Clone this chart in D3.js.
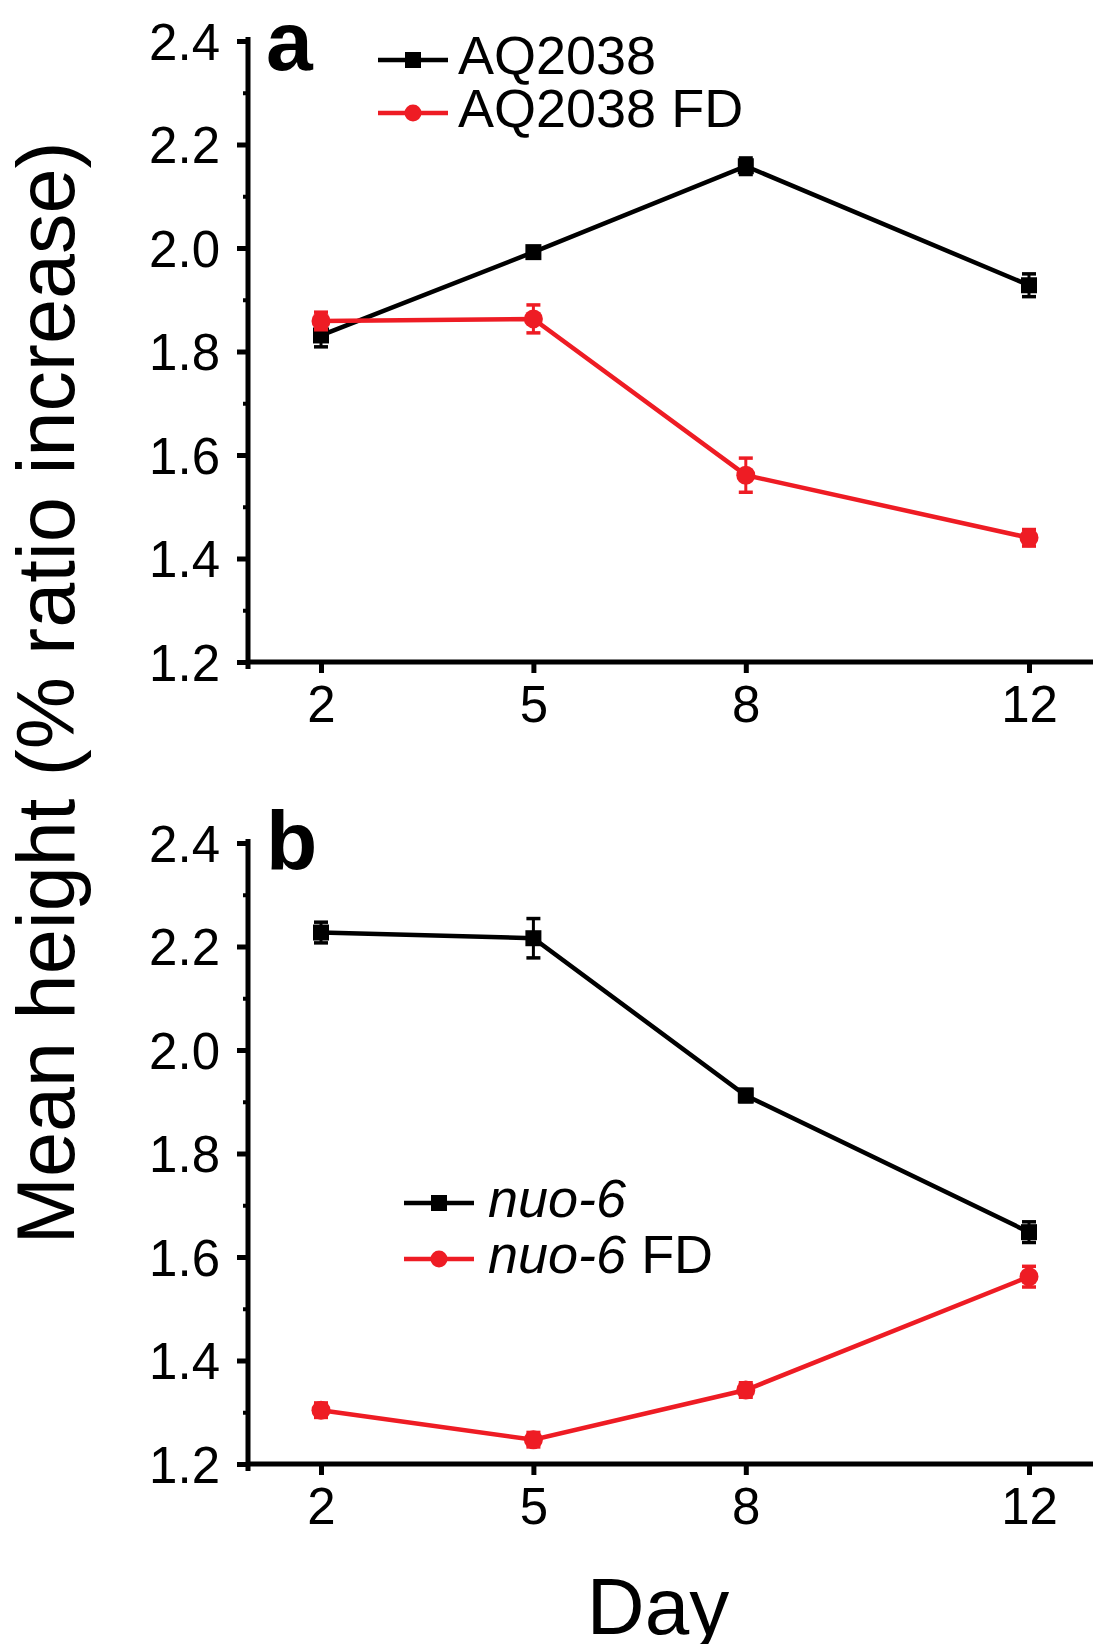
<!DOCTYPE html>
<html>
<head>
<meta charset="utf-8">
<script src="https://cdn.jsdelivr.net/npm/d3@7.9.0/dist/d3.min.js"></script>
<style>
  body { margin: 0; background: #fff; }
  svg { display: block; }
  text { font-family: "Liberation Sans", Arial, sans-serif; fill: #000; }
</style>
</head>
<body>
<div id="chart"></div>
<script>
// days on the x axis
const days = [2, 5, 8, 12];

// panel a
const aq2038 = [1.831, 1.992, 2.158, 1.928];
const aq2038Err = [0.022, 0.010, 0.016, 0.022];
const aq2038FD = [1.859, 1.863, 1.561, 1.440];
const aq2038FDErr = [0.017, 0.027, 0.033, 0.016];

// panel b
const nuo6 = [2.227, 2.216, 1.912, 1.648];
const nuo6Err = [0.020, 0.038, 0.012, 0.020];
const nuo6FD = [1.304, 1.247, 1.343, 1.562];
const nuo6FDErr = [0.014, 0.014, 0.014, 0.020];

const yTicks = [1.2, 1.4, 1.6, 1.8, 2.0, 2.2, 2.4];
const yMinorTicks = [1.3, 1.5, 1.7, 1.9, 2.1, 2.3];
const legendA = ["AQ2038", "AQ2038 FD"];
const legendB = ["nuo-6", "nuo-6 FD"];

const RED = "#ee1c24";
const width = 1093, height = 1644;
const axisX = 248;          // position of the y axis line
const plotH = 621;

const svg = d3.select("#chart").append("svg")
    .attr("width", width)
    .attr("height", height);

const x = d3.scaleLinear().domain([2, 12]).range([321, 1029]);

function drawPanel(top, label, series, legend, legendPos, italicPart) {
    const g = svg.append("g").attr("transform", `translate(0,${top})`);
    const y = d3.scaleLinear().domain([1.2, 2.4]).range([plotH, 0]);

    // minor y ticks
    const minor = g.append("g")
        .attr("transform", `translate(${axisX},0)`)
        .call(d3.axisLeft(y).tickValues(yMinorTicks).tickSize(5).tickFormat(""));
    minor.select(".domain").remove();
    minor.selectAll("line").attr("stroke", "#000").attr("stroke-width", 4);

    // major y ticks
    const yAx = g.append("g")
        .attr("transform", `translate(${axisX},0)`)
        .call(d3.axisLeft(y).tickValues(yTicks).tickSize(11).tickPadding(17)
            .tickFormat(d3.format(".1f")));
    yAx.select(".domain").remove();
    yAx.selectAll("line").attr("stroke", "#000").attr("stroke-width", 5);
    yAx.selectAll("text")
        .attr("font-size", 51)
        .attr("dy", "0.36em")
        .attr("fill", "#000");

    // x ticks
    const xAx = g.append("g")
        .attr("transform", `translate(0,${plotH})`)
        .call(d3.axisBottom(x).tickValues(days).tickSize(11).tickPadding(13));
    xAx.select(".domain").remove();
    xAx.selectAll("line").attr("stroke", "#000").attr("stroke-width", 5);
    xAx.selectAll("text")
        .attr("font-size", 51)
        .attr("fill", "#000");

    // axis lines
    g.append("line")
        .attr("x1", axisX).attr("x2", axisX)
        .attr("y1", -4).attr("y2", plotH + 7)
        .attr("stroke", "#000").attr("stroke-width", 5);
    g.append("line")
        .attr("x1", axisX - 2).attr("x2", width)
        .attr("y1", plotH).attr("y2", plotH)
        .attr("stroke", "#000").attr("stroke-width", 5);

    // panel letter
    g.append("text")
        .attr("x", 266).attr("y", label === "a" ? 29 : 27)
        .attr("font-size", 84)
        .attr("font-weight", "bold")
        .text(label);

    const line = d3.line().x(d => x(d.day)).y(d => y(d.v));

    series.forEach(s => {
        const pts = days.map((d, i) => ({ day: d, v: s.values[i], e: s.errors[i] }));

        g.append("path")
            .datum(pts)
            .attr("d", line)
            .attr("fill", "none")
            .attr("stroke", s.color)
            .attr("stroke-width", 4.5);

        // error bars
        const eb = g.append("g").selectAll("g").data(pts).enter().append("g");
        eb.append("line")
            .attr("x1", d => x(d.day)).attr("x2", d => x(d.day))
            .attr("y1", d => y(d.v - d.e)).attr("y2", d => y(d.v + d.e))
            .attr("stroke", s.color).attr("stroke-width", 3);
        [-1, 1].forEach(sign => {
            eb.append("line")
                .attr("x1", d => x(d.day) - 7).attr("x2", d => x(d.day) + 7)
                .attr("y1", d => y(d.v + sign * d.e)).attr("y2", d => y(d.v + sign * d.e))
                .attr("stroke", s.color).attr("stroke-width", 3.5);
        });

        // markers
        if (s.shape === "square") {
            g.append("g").selectAll("rect").data(pts).enter().append("rect")
                .attr("x", d => x(d.day) - 8).attr("y", d => y(d.v) - 8)
                .attr("width", 16).attr("height", 16)
                .attr("fill", s.color);
        } else {
            g.append("g").selectAll("circle").data(pts).enter().append("circle")
                .attr("cx", d => x(d.day)).attr("cy", d => y(d.v))
                .attr("r", 9.5)
                .attr("fill", s.color);
        }
    });

    // legend
    const lg = svg.append("g").attr("transform", `translate(${legendPos.x},${legendPos.y})`);
    series.forEach((s, i) => {
        const row = lg.append("g").attr("transform", `translate(0,${i * legendPos.gap})`);
        row.append("line")
            .attr("x1", 0).attr("x2", 70)
            .attr("stroke", s.color).attr("stroke-width", 4.5);
        if (s.shape === "square") {
            row.append("rect").attr("x", 27).attr("y", -8).attr("width", 16).attr("height", 16)
                .attr("fill", s.color);
        } else {
            row.append("circle").attr("cx", 35).attr("r", 8.5).attr("fill", s.color);
        }
        const t = row.append("text")
            .attr("x", legendPos.textX)
            .attr("y", 14)
            .attr("font-size", 54);
        const name = legend[i];
        if (italicPart && name.startsWith(italicPart)) {
            t.append("tspan").attr("font-style", "italic").text(italicPart);
            t.append("tspan").text(name.slice(italicPart.length));
        } else {
            t.text(name);
        }
    });
}

drawPanel(41, "a", [
    { values: aq2038, errors: aq2038Err, color: "#000", shape: "square" },
    { values: aq2038FD, errors: aq2038FDErr, color: RED, shape: "circle" }
], legendA, { x: 378, y: 60, gap: 53, textX: 80 }, null);

drawPanel(843, "b", [
    { values: nuo6, errors: nuo6Err, color: "#000", shape: "square" },
    { values: nuo6FD, errors: nuo6FDErr, color: RED, shape: "circle" }
], legendB, { x: 404, y: 1203, gap: 56, textX: 84 }, "nuo-6");

// axis titles
svg.append("text")
    .attr("transform", "translate(74,693) rotate(-90)")
    .attr("text-anchor", "middle")
    .attr("font-size", 81)
    .text("Mean height (% ratio increase)");

svg.append("text")
    .attr("x", 658).attr("y", 1634)
    .attr("text-anchor", "middle")
    .attr("font-size", 80)
    .text("Day");
</script>
</body>
</html>
